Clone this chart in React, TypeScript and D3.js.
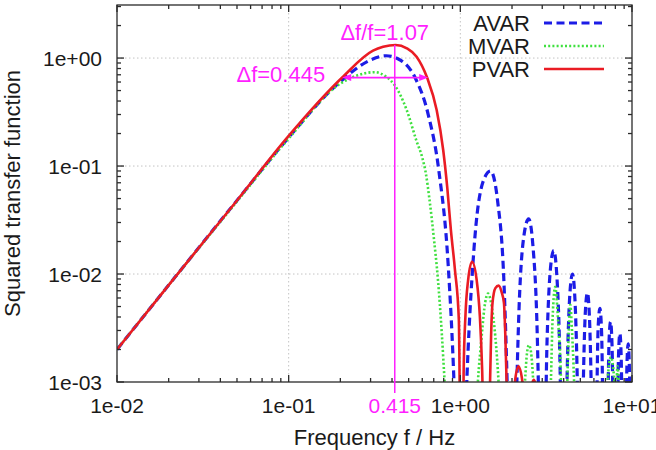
import * as React from 'react';
import {useEffect, useRef} from 'react';
import {scaleLog, line as d3Line, curveMonotoneX, select as d3Select} from 'd3';

type Pt = [number, number];

// Nulls of the transfer functions fall far below the 1e-03 floor; they are
// kept as a tiny value so the log scale stays finite and the clip trims them.
const NULL = 1e-5;

// Squared transfer function vs. frequency (Hz), tau = 1 s.
const avarPoints: Pt[] = [
  [0.01, 0.002], [0.02, 0.0079], [0.05, 0.048], [0.1, 0.184], [0.2, 0.605],
  [0.3, 0.96], [0.37, 1.05], [0.45, 0.95], [0.55, 0.64], [0.65, 0.30],
  [0.75, 0.09], [0.85, 0.012], [0.92, 0.00093], [1, NULL],
  [1.08, 0.00067], [1.2, 0.0168], [1.35, 0.070], [1.5, 0.090], [1.65, 0.047],
  [1.8, 0.0075], [1.92, 0.00021], [2, NULL],
  [2.08, 0.00018], [2.2, 0.005], [2.35, 0.023], [2.5, 0.0324], [2.65, 0.018],
  [2.8, 0.0031], [2.92, 0.00012], [3, NULL],
  [3.2, 0.0024], [3.35, 0.0113], [3.5, 0.0165], [3.65, 0.0096], [3.8, 0.0017], [4, NULL],
  [4.2, 0.0014], [4.35, 0.0067], [4.5, 0.010], [4.65, 0.0059], [4.8, 0.00105], [5, NULL],
  [5.2, 0.0009], [5.35, 0.0045], [5.5, 0.0067], [5.65, 0.004], [5.8, 0.00072], [6, NULL],
  [6.35, 0.0032], [6.5, 0.0048], [6.65, 0.0029], [7, NULL],
  [7.35, 0.0024], [7.5, 0.0036], [7.65, 0.0022], [8, NULL],
  [8.35, 0.0018], [8.5, 0.0028], [8.65, 0.0017], [9, NULL],
  [9.35, 0.0015], [9.5, 0.00225], [9.65, 0.0014], [10, NULL],
];

const mvarPoints: Pt[] = [
  [0.01, 0.002], [0.02, 0.0079], [0.05, 0.047], [0.1, 0.18], [0.2, 0.58],
  [0.25, 0.69], [0.318, 0.74], [0.37, 0.67], [0.415, 0.56], [0.487, 0.33],
  [0.556, 0.17], [0.6, 0.12], [0.63, 0.085], [0.66, 0.05], [0.7, 0.022],
  [0.74, 0.009], [0.78, 0.0028], [0.81, 0.001], [0.88, 0.0001], [1, NULL],
  [1.2, 0.0002], [1.265, 0.001], [1.33, 0.0026], [1.38, 0.0048], [1.45, 0.0066],
  [1.53, 0.0048], [1.6, 0.0026], [1.67, 0.001], [1.75, 0.0002], [2, NULL],
  [2.3, 0.0003], [2.38, 0.001], [2.45, 0.0019], [2.51, 0.0022], [2.58, 0.0019],
  [2.66, 0.001], [2.75, 0.0003], [3, NULL],
  [3.3, 0.0003], [3.37, 0.001], [3.45, 0.004], [3.57, 0.0076], [3.7, 0.004],
  [3.86, 0.001], [3.93, 0.0003], [4, NULL],
  [4.13, 0.0003], [4.2, 0.001], [4.28, 0.003], [4.37, 0.0052], [4.47, 0.003],
  [4.6, 0.001], [4.7, 0.0003], [5, NULL], [7, NULL],
  [7.1, 0.0003], [7.2, 0.001], [7.53, 0.0017], [7.9, 0.001], [8, NULL],
  [8.1, 0.0006], [8.15, 0.001], [8.24, 0.0014], [8.35, 0.001], [8.45, 0.0004],
  [9, NULL], [10, NULL],
];

const pvarPoints: Pt[] = [
  [0.01, 0.002], [0.02, 0.0079], [0.05, 0.048], [0.1, 0.19], [0.205, 0.66],
  [0.31, 1.17], [0.355, 1.27], [0.42, 1.32], [0.488, 1.23], [0.556, 1.03],
  [0.64, 0.66], [0.728, 0.33], [0.795, 0.14], [0.84, 0.062], [0.88, 0.026],
  [0.93, 0.011], [0.98, 0.0038], [1.02, NULL],
  [1.045, 0.0012], [1.07, 0.004], [1.11, 0.0088], [1.17, 0.013], [1.245, 0.0088],
  [1.30, 0.004], [1.34, 0.0013], [1.42, NULL],
  [1.49, 0.001], [1.51, 0.0026], [1.54, 0.0054], [1.6, 0.0074], [1.67, 0.0078],
  [1.74, 0.0068], [1.795, 0.0054], [1.83, 0.0026], [1.86, 0.001], [1.97, NULL],
  [2.08, 0.001], [2.18, 0.0014], [2.3, 0.001], [2.45, NULL],
  [2.6, 0.0009], [2.68, 0.00105], [2.76, 0.0009], [2.9, NULL], [10, NULL],
];

const seriesNames = ['AVAR', 'MVAR', 'PVAR'];

const xTicks = [0.01, 0.1, 1, 10];
const xTickLabels = ['1e-02', '1e-01', '1e+00', '1e+01'];
const yTicks = [1e-3, 1e-2, 1e-1, 1];
const yTickLabels = ['1e-03', '1e-02', '1e-01', '1e+00'];

// PVAR bandwidth annotation
const centreFreq = 0.415;
const bandLow = 0.205;
const bandHigh = 0.65;
const halfPower = 0.66;

const FONT = '"Liberation Sans", Arial, Helvetica, sans-serif';
const MAGENTA = '#ff1fff';

function drawChart(svgEl: SVGSVGElement) {
  const svg = d3Select(svgEl);
  svg.selectAll('*').remove();

  const left = 117, right = 632, top = 5, bottom = 382;
  const x = scaleLog().domain([0.01, 10]).range([left, right]);
  const y = scaleLog().domain([1e-3, 3.1]).range([bottom, top]);

  svg.append('defs').append('clipPath').attr('id', 'plot-clip')
    .append('rect')
    .attr('x', left).attr('y', top)
    .attr('width', right - left).attr('height', bottom - top);

  // Grid at the decades
  const grid = svg.append('g')
    .attr('stroke', '#c4c4c4').attr('stroke-width', 1).attr('stroke-dasharray', '1.5,2.5');
  xTicks.slice(1, -1).forEach((t) => {
    grid.append('line').attr('x1', x(t)).attr('x2', x(t)).attr('y1', top).attr('y2', bottom);
  });
  yTicks.slice(1).forEach((t) => {
    grid.append('line').attr('x1', left).attr('x2', right).attr('y1', y(t)).attr('y2', y(t));
  });

  // Curves
  const path = d3Line<Pt>()
    .x((d) => x(d[0]))
    .y((d) => y(d[1]))
    .curve(curveMonotoneX);

  const curves = svg.append('g').attr('clip-path', 'url(#plot-clip)').attr('fill', 'none');
  curves.append('path').datum(avarPoints).attr('d', path)
    .attr('stroke', '#1c1ce6').attr('stroke-width', 3.2).attr('stroke-dasharray', '8,4.5');
  curves.append('path').datum(mvarPoints).attr('d', path)
    .attr('stroke', '#3fe03f').attr('stroke-width', 2.6).attr('stroke-dasharray', '2,2.2');
  curves.append('path').datum(pvarPoints).attr('d', path)
    .attr('stroke', '#ea1c24').attr('stroke-width', 2.6);

  // Frame and ticks (mirrored on all four sides)
  const frame = svg.append('g').attr('stroke', '#2a2a2a').attr('stroke-width', 1.3);
  frame.append('rect')
    .attr('x', left).attr('y', top).attr('width', right - left).attr('height', bottom - top)
    .attr('fill', 'none');
  const major = 7, minor = 4;
  x.ticks().forEach((t) => {
    const len = xTicks.indexOf(t) >= 0 ? major : minor;
    frame.append('line').attr('x1', x(t)).attr('x2', x(t)).attr('y1', bottom).attr('y2', bottom - len);
    frame.append('line').attr('x1', x(t)).attr('x2', x(t)).attr('y1', top).attr('y2', top + len);
  });
  y.ticks().forEach((t) => {
    const len = yTicks.indexOf(t) >= 0 ? major : minor;
    frame.append('line').attr('x1', left).attr('x2', left + len).attr('y1', y(t)).attr('y2', y(t));
    frame.append('line').attr('x1', right).attr('x2', right - len).attr('y1', y(t)).attr('y2', y(t));
  });

  const labels = svg.append('g').attr('font-family', FONT).attr('font-size', 21).attr('fill', '#1a1a1a');
  xTicks.forEach((t, i) => {
    labels.append('text').attr('x', x(t)).attr('y', 413)
      .attr('text-anchor', 'middle').text(xTickLabels[i]);
  });
  yTicks.forEach((t, i) => {
    labels.append('text').attr('x', 102).attr('y', y(t) + 7.5)
      .attr('text-anchor', 'end').text(yTickLabels[i]);
  });

  // Axis titles
  labels.append('text')
    .attr('x', (left + right) / 2).attr('y', 445)
    .attr('text-anchor', 'middle').attr('font-size', 22)
    .text('Frequency f / Hz');
  labels.append('text')
    .attr('transform', `translate(20, ${(top + bottom) / 2}) rotate(-90)`)
    .attr('text-anchor', 'middle').attr('font-size', 22)
    .text('Squared transfer function');

  // Legend
  const legend = svg.append('g').attr('font-family', FONT).attr('font-size', 22).attr('fill', '#1a1a1a');
  const styles = [
    {stroke: '#1c1ce6', width: 3.2, dash: '8,4.5'},
    {stroke: '#3fe03f', width: 2.6, dash: '2,2.2'},
    {stroke: '#ea1c24', width: 2.6, dash: null},
  ];
  seriesNames.forEach((name, i) => {
    const cy = 23 + i * 23;
    legend.append('text').attr('x', 530).attr('y', cy + 8).attr('text-anchor', 'end').text(name);
    legend.append('line')
      .attr('x1', 544).attr('x2', 604).attr('y1', cy).attr('y2', cy)
      .attr('stroke', styles[i].stroke).attr('stroke-width', styles[i].width)
      .attr('stroke-dasharray', styles[i].dash);
  });

  // Centre frequency marker and half-power bandwidth arrow
  const pvarPeak = Math.max(...pvarPoints.map((d) => d[1]));
  const ann = svg.append('g');
  ann.append('line')
    .attr('x1', x(centreFreq)).attr('x2', x(centreFreq))
    .attr('y1', y(pvarPeak)).attr('y2', bottom + 11)
    .attr('stroke', MAGENTA).attr('stroke-width', 1.5);

  const ay = y(halfPower);
  const x0 = x(bandLow), x1 = x(bandHigh);
  const headLen = 9, headHalf = 3.5;
  ann.append('line').attr('x1', x0 + headLen / 2).attr('x2', x1 - headLen / 2)
    .attr('y1', ay).attr('y2', ay).attr('stroke', MAGENTA).attr('stroke-width', 1.8);
  ann.append('polygon')
    .attr('points', `${x0},${ay} ${x0 + headLen},${ay - headHalf} ${x0 + headLen},${ay + headHalf}`)
    .attr('fill', MAGENTA);
  ann.append('polygon')
    .attr('points', `${x1},${ay} ${x1 - headLen},${ay - headHalf} ${x1 - headLen},${ay + headHalf}`)
    .attr('fill', MAGENTA);

  const bandwidth = bandHigh - bandLow;
  const annText = ann.append('g').attr('font-family', FONT).attr('font-size', 22).attr('fill', MAGENTA);
  annText.append('text')
    .attr('x', x(centreFreq) - 10).attr('y', 39.5)
    .attr('text-anchor', 'middle')
    .text(`\u0394f/f=${(bandwidth / centreFreq).toFixed(2)}`);
  annText.append('text')
    .attr('x', x0 - 17).attr('y', ay + 4.5)
    .attr('text-anchor', 'end')
    .text(`\u0394f=${bandwidth.toFixed(3)}`);
  annText.append('text')
    .attr('x', x(centreFreq)).attr('y', 413)
    .attr('text-anchor', 'middle').attr('font-size', 21)
    .text(String(centreFreq));
}

export default function App() {
  const svgRef = useRef<SVGSVGElement>(null);
  useEffect(() => {
    if (svgRef.current) {
      drawChart(svgRef.current);
    }
  }, []);
  return <svg ref={svgRef} width={656} height={450}
    style={{position: 'absolute', left: 0, top: 0, background: '#fff'}} />;
}
